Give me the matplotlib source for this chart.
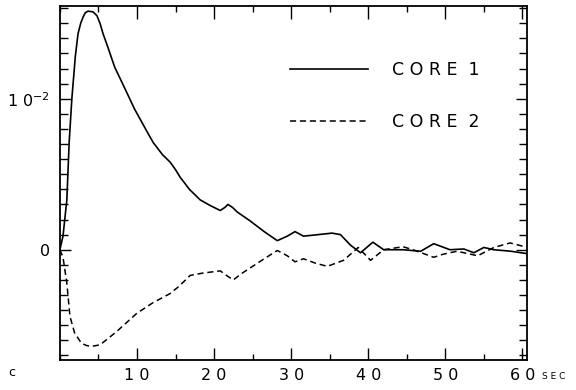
import matplotlib

matplotlib.use("Agg")
import matplotlib.pyplot as plt
from matplotlib.ticker import MultipleLocator

# time (sec) and signal (units of 1e-2)
t_core1 = [0, 0.4, 0.9, 1.2, 1.55, 2.0, 2.35, 2.7, 3.0, 3.3, 3.65, 4.3, 4.8, 5.2,
           5.6, 6.3, 7.1, 8.5, 9.7, 11.0, 12.1, 13.3, 14.3, 15.0, 15.6, 16.8,
           18.2, 19.6, 20.8, 21.4, 21.8, 22.4, 23.0, 24.7, 26.5, 28.2, 29.5, 30.5,
           31.6, 33.5, 35.3, 36.4, 37.7, 39.0, 40.6, 42.0, 44.5, 46.8, 48.5, 50.6,
           52.4, 53.7, 55.0, 56.3, 58.5, 60.5]
v_core1 = [0.0, 0.09, 0.33, 0.71, 1.0, 1.28, 1.43, 1.5, 1.54, 1.57, 1.58, 1.575,
           1.55, 1.5, 1.43, 1.33, 1.21, 1.06, 0.93, 0.81, 0.71, 0.63, 0.58, 0.53,
           0.48, 0.40, 0.33, 0.29, 0.26, 0.28, 0.30, 0.28, 0.25, 0.19, 0.12, 0.06,
           0.09, 0.12, 0.09, 0.10, 0.11, 0.10, 0.03, -0.02, 0.05, 0.0, 0.0, -0.01,
           0.04, 0.0, 0.005, -0.02, 0.015, 0.0, -0.01, -0.025]

t_core2 = [0, 0.4, 0.9, 1.3, 1.9, 2.8, 3.5, 4.1, 5.2, 6.2, 7.4, 8.7, 10.0, 12.1,
           14.3, 15.5, 16.9, 18.5, 20.8, 21.6, 22.5, 23.5, 24.7, 26.5, 28.2,
           29.5, 30.5, 31.6, 33.2, 34.7, 36.8, 38.7, 40.3, 42.0, 44.5, 45.8, 48.5,
           49.7, 51.5, 54.2, 56.3, 58.4, 60.3]
v_core2 = [0.0, -0.05, -0.22, -0.44, -0.55, -0.62, -0.635, -0.64, -0.63, -0.59,
           -0.54, -0.48, -0.42, -0.35, -0.29, -0.24, -0.17, -0.155, -0.14, -0.17,
           -0.20, -0.16, -0.12, -0.06, -0.005, -0.04, -0.08, -0.06, -0.09, -0.11,
           -0.07, 0.015, -0.07, 0.0, 0.02, 0.0, -0.05, -0.03, -0.01, -0.04, 0.015,
           0.045, 0.02]

x_ticks = [10, 20, 30, 40, 50, 60]
x_labels = ["1 0", "2 0", "3 0", "4 0", "5 0", "6 0"]
y_ticks = [0, 1]
y_labels = ["0", "1 0$^{-2}$"]
series_labels = ["C O R E  1", "C O R E  2"]

plt.rcParams["font.family"] = ["DejaVu Sans"]
fig = plt.figure(figsize=(5.76, 3.9), dpi=100)
ax = fig.add_axes([0.104, 0.077, 0.811, 0.908])

ax.plot(t_core1, v_core1, color="black", lw=1.2, label=series_labels[0])
ax.plot(t_core2, v_core2, color="black", lw=1.1, ls=(0, (4, 2.5)), label=series_labels[1])

ax.set_xlim(0, 60.6)
ax.set_ylim(-0.73, 1.615)
ax.set_xticks(x_ticks)
ax.set_xticklabels(x_labels, fontsize=11.5)
ax.set_yticks(y_ticks)
ax.set_yticklabels(y_labels, fontsize=11.5)
ax.xaxis.set_minor_locator(MultipleLocator(5))
ax.yaxis.set_minor_locator(MultipleLocator(0.1))
ax.tick_params(which="both", direction="in", top=True, right=True, width=1)
ax.tick_params(axis="x", which="major", length=9, pad=6)
ax.tick_params(axis="x", which="minor", length=4.5)
ax.tick_params(axis="y", which="major", length=8, pad=7)
ax.tick_params(axis="y", which="minor", length=5.5)
for s in ax.spines.values():
    s.set_linewidth(1.3)

ax.annotate("S E C", xy=(60, -0.73), xytext=(14, -12), textcoords="offset points",
            fontsize=6.5, va="center", ha="left", annotation_clip=False)
fig.text(0.015, 0.035, "c", fontsize=9)

ax.legend(loc="upper left", bbox_to_anchor=(0.459, 0.887), frameon=False,
          fontsize=12.5, handlelength=4.5, handletextpad=1.4, labelspacing=1.95)

fig.savefig("out.png", dpi=100)
